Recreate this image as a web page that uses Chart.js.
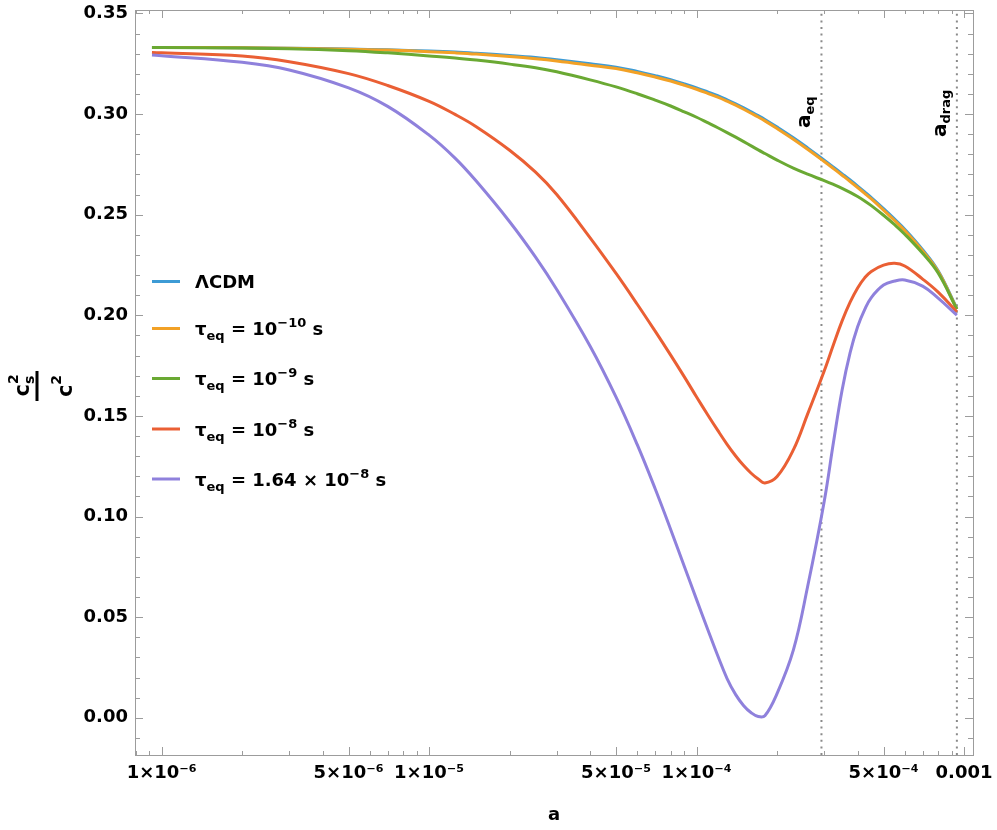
<!DOCTYPE html>
<html>
<head>
<meta charset="utf-8">
<script src="https://cdn.jsdelivr.net/npm/chart.js@4.4.1/dist/chart.umd.min.js"></script>
<style>
  html, body { margin: 0; padding: 0; background: #fff; }
  #wrap { width: 997px; height: 830px; }
</style>
</head>
<body>
<div id="wrap"><canvas id="soundSpeed" width="997" height="830"></canvas></div>
<script>
// scale factor samples (x) and c_s^2/c^2
const aVals = [9.2e-7, 1e-6, 2e-6, 3e-6, 5e-6, 7e-6, 1e-5, 1.25e-5, 1.5e-5, 2e-5, 2.5e-5, 3e-5,
  4e-5, 5e-5, 6e-5, 7e-5, 8e-5, 9e-5, 1e-4, 1.1e-4, 1.2e-4, 1.3e-4, 1.4e-4, 1.5e-4,
  1.6e-4, 1.7e-4, 1.8e-4, 2e-4, 2.3e-4, 2.6e-4, 3e-4, 3.25e-4, 3.5e-4, 3.75e-4, 4e-4, 4.25e-4,
  4.5e-4, 5e-4, 5.5e-4, 6e-4, 7e-4, 8e-4, 9.4e-4];

const lcdm = [0.3331, 0.3331, 0.3329, 0.3327, 0.3323, 0.3319, 0.3313, 0.3308, 0.3302, 0.3291, 0.3281, 0.3270,
  0.3250, 0.3233, 0.3212, 0.3191, 0.3171, 0.3150, 0.3130, 0.3110, 0.3091, 0.3071, 0.3051, 0.3031,
  0.3011, 0.2992, 0.2973, 0.2935, 0.2882, 0.2832, 0.2771, 0.2736, 0.2703, 0.2672, 0.2642, 0.2613,
  0.2585, 0.2530, 0.2478, 0.2428, 0.2326, 0.2221, 0.2034];
const tau10 = [0.3331, 0.3331, 0.3329, 0.3327, 0.3322, 0.3318, 0.3310, 0.3304, 0.3298, 0.3286, 0.3275, 0.3264,
  0.3243, 0.3226, 0.3205, 0.3184, 0.3164, 0.3143, 0.3123, 0.3103, 0.3084, 0.3064, 0.3044, 0.3024,
  0.3004, 0.2985, 0.2966, 0.2928, 0.2875, 0.2825, 0.2764, 0.2729, 0.2696, 0.2665, 0.2635, 0.2606,
  0.2578, 0.2523, 0.2471, 0.2421, 0.2320, 0.2217, 0.2032];
const tau9 = [0.3331, 0.3331, 0.3328, 0.3325, 0.3315, 0.3304, 0.3289, 0.3279, 0.3268, 0.3248, 0.3230, 0.3210,
  0.3170, 0.3135, 0.3101, 0.3069, 0.3040, 0.3011, 0.2984, 0.2957, 0.2932, 0.2908, 0.2885, 0.2863,
  0.2842, 0.2822, 0.2804, 0.2771, 0.2731, 0.2701, 0.2669, 0.2650, 0.2631, 0.2611, 0.2590, 0.2568,
  0.2545, 0.2497, 0.2450, 0.2403, 0.2308, 0.2210, 0.2030];
const tau8 = [0.3306, 0.3304, 0.3288, 0.3260, 0.3201, 0.3142, 0.3063, 0.2998, 0.2937, 0.2820, 0.2711, 0.2600,
  0.2385, 0.2208, 0.2055, 0.1921, 0.1802, 0.1694, 0.1594, 0.1506, 0.1428, 0.1359, 0.1301, 0.1253,
  0.1215, 0.1186, 0.1167, 0.1199, 0.1331, 0.1509, 0.1723, 0.1855, 0.1972, 0.2065, 0.2136, 0.2186,
  0.2218, 0.2249, 0.2258, 0.2245, 0.2180, 0.2115, 0.2017];
const tau164 = [0.3293, 0.3290, 0.3257, 0.3219, 0.3130, 0.3038, 0.2895, 0.2781, 0.2667, 0.2465, 0.2289, 0.2128,
  0.1846, 0.1593, 0.1357, 0.1138, 0.0936, 0.0752, 0.0587, 0.0440, 0.0308, 0.0195, 0.0115, 0.0060,
  0.0025, 0.0006, 0.0010, 0.0121, 0.0336, 0.0651, 0.1075, 0.1370, 0.1629, 0.1814, 0.1943, 0.2028,
  0.2088, 0.2150, 0.2170, 0.2175, 0.2145, 0.2085, 0.2001];

const seriesColors = ['#3d9bd5', '#f2a126', '#6aa933', '#ea5f34', '#8f81dc'];
const aEq = 2.93e-4, aDrag = 9.4e-4;

const xTickVals = [1e-6, 5e-6, 1e-5, 5e-5, 1e-4, 5e-4, 1e-3];
const xTickLabels = ['1×10⁻⁶', '5×10⁻⁶', '1×10⁻⁵', '5×10⁻⁵', '1×10⁻⁴', '5×10⁻⁴', '0.001'];
const yTickVals = [0, 0.05, 0.10, 0.15, 0.20, 0.25, 0.30, 0.35];
const xMin = 7.95e-7, xMax = 1.08e-3, yMin = -0.0185, yMax = 0.3517;

const FONT = '"DejaVu Sans", sans-serif';

// legend text pieces: [text, size, dy]
const legendRows = [
  [['ΛCDM', 18, 0]],
  [['τ', 18, 0], ['eq', 13, 5], [' = 10', 18, 0], ['−10', 13, -8], [' s', 18, 0]],
  [['τ', 18, 0], ['eq', 13, 5], [' = 10', 18, 0], ['−9', 13, -8], [' s', 18, 0]],
  [['τ', 18, 0], ['eq', 13, 5], [' = 10', 18, 0], ['−8', 13, -8], [' s', 18, 0]],
  [['τ', 18, 0], ['eq', 13, 5], [' = 1.64 × 10', 18, 0], ['−8', 13, -8], [' s', 18, 0]]
];
const legendBase = [288, 335, 385, 435.5, 485.5];

function drawRich(ctx, x, y, parts) {
  let cx = x;
  for (const [t, size, dy] of parts) {
    ctx.font = `bold ${size}px ${FONT}`;
    ctx.fillText(t, cx, y + dy);
    cx += ctx.measureText(t).width;
  }
  return cx;
}

function toPoints(ys) {
  return aVals.map((a, i) => ({ x: a, y: ys[i] }));
}

const curves = [lcdm, tau10, tau9, tau8, tau164];
const datasets = curves.map((ys, i) => ({
  data: toPoints(ys),
  borderColor: seriesColors[i],
  borderWidth: 3,
  pointRadius: 0,
  tension: 0.4,
  order: 5 - i
}));
[aEq, aDrag].forEach(a => datasets.push({
  data: [{ x: a, y: yMin }, { x: a, y: yMax }],
  borderColor: '#8a8a8a',
  borderWidth: 2,
  borderDash: [2, 4.6],
  pointRadius: 0,
  order: 10
}));

//frame with inward ticks on all four sides
const framePlugin = {
  id: 'frame',
  afterDatasetsDraw(chart) {
    const { ctx, chartArea: ca, scales: { x, y } } = chart;
    ctx.save();
    ctx.strokeStyle = '#9c9c9c';
    ctx.lineWidth = 1;
    ctx.beginPath();
    for (let d = -7; d <= -3; d++) {
      for (let m = 1; m <= 9; m++) {
        const v = m * Math.pow(10, d);
        if (v < xMin || v > xMax) continue;
        const major = xTickVals.some(t => Math.abs(t - v) / t < 1e-6);
        const len = major ? 8 : 4;
        const px = Math.round(x.getPixelForValue(v)) + 0.5;
        ctx.moveTo(px, ca.bottom); ctx.lineTo(px, ca.bottom - len);
        ctx.moveTo(px, ca.top); ctx.lineTo(px, ca.top + len);
      }
    }
    for (let k = -1; k <= 35; k++) {
      const len = k % 5 === 0 ? 8 : 5;
      const py = Math.round(y.getPixelForValue(k / 100)) + 0.5;
      ctx.moveTo(ca.left, py); ctx.lineTo(ca.left + len, py);
      ctx.moveTo(ca.right, py); ctx.lineTo(ca.right - len, py);
    }
    ctx.stroke();
    ctx.strokeRect(Math.round(ca.left) + 0.5, Math.round(ca.top) + 0.5,
      Math.round(ca.right - ca.left), Math.round(ca.bottom - ca.top));
    ctx.restore();
  }
};

const textPlugin = {
  id: 'texts',
  afterDraw(chart) {
    const { ctx, chartArea: ca, scales: { x } } = chart;
    ctx.save();
    ctx.fillStyle = '#000';
    ctx.textAlign = 'left';
    ctx.textBaseline = 'alphabetic';

    // legend
    legendRows.forEach((parts, i) => {
      const by = legendBase[i];
      ctx.strokeStyle = seriesColors[i];
      ctx.lineWidth = 3;
      ctx.beginPath();
      ctx.moveTo(152, by - 6.5);
      ctx.lineTo(180, by - 6.5);
      ctx.stroke();
      drawRich(ctx, 195, by, parts);
    });

    // x title
    ctx.font = `bold 18px ${FONT}`;
    ctx.textAlign = 'center';
    ctx.fillText('a', (ca.left + ca.right) / 2, 820);
    ctx.textAlign = 'left';

    // y title: c_s^2 / c^2
    ctx.save();
    ctx.translate(37, 386);
    ctx.rotate(-Math.PI / 2);
    ctx.fillRect(-15, -1.5, 30, 3);
    ctx.font = `bold 21px ${FONT}`;
    const wc = ctx.measureText('c').width;
    ctx.font = `bold 14px ${FONT}`;
    const ws = ctx.measureText('s').width;
    const w2 = ctx.measureText('2').width;
    let sx = -(wc + ws) / 2;
    ctx.font = `bold 21px ${FONT}`;
    ctx.fillText('c', sx, -8);
    ctx.font = `bold 14px ${FONT}`;
    ctx.fillText('s', sx + wc, -3);
    ctx.fillText('2', sx + wc, -19);
    sx = -(wc + w2) / 2;
    ctx.font = `bold 21px ${FONT}`;
    ctx.fillText('c', sx, 35);
    ctx.font = `bold 14px ${FONT}`;
    ctx.fillText('2', sx + wc, 24);
    ctx.restore();

    // vertical line labels
    [[aEq, 'eq', 128], [aDrag, 'drag', 137]].forEach(([a, sub, py]) => {
      ctx.save();
      ctx.translate(x.getPixelForValue(a) - 11, py);
      ctx.rotate(-Math.PI / 2);
      drawRich(ctx, 0, 0, [['a', 20, 0], [sub, 13, 4]]);
      ctx.restore();
    });
    ctx.restore();
  }
};

const tickFont = { family: FONT, size: 18, weight: 'bold' };

new Chart(document.getElementById('soundSpeed'), {
  type: 'line',
  data: { datasets },
  options: {
    responsive: false,
    animation: false,
    events: [],
    layout: { padding: { top: 10, right: 24, left: 0, bottom: 0 } },
    plugins: { legend: { display: false }, tooltip: { enabled: false } },
    scales: {
      x: {
        type: 'logarithmic',
        min: xMin,
        max: xMax,
        grid: { display: false, drawTicks: false },
        border: { display: false },
        afterBuildTicks: s => { s.ticks = xTickVals.map(v => ({ value: v })); },
        afterFit: s => { s.height = 75; s.paddingLeft = 0; s.paddingRight = 0; },
        ticks: {
          autoSkip: false, maxRotation: 0, minRotation: 0, padding: 8,
          color: '#000', font: tickFont,
          callback: (v, i) => xTickLabels[i]
        }
      },
      y: {
        type: 'linear',
        min: yMin,
        max: yMax,
        grid: { display: false, drawTicks: false },
        border: { display: false },
        afterBuildTicks: s => { s.ticks = yTickVals.map(v => ({ value: v })); },
        afterFit: s => { s.width = 135; s.paddingTop = 0; s.paddingBottom = 0; },
        ticks: {
          padding: 7, color: '#000', font: tickFont,
          callback: v => v.toFixed(2)
        }
      }
    }
  },
  plugins: [framePlugin, textPlugin]
});
</script>
</body>
</html>
